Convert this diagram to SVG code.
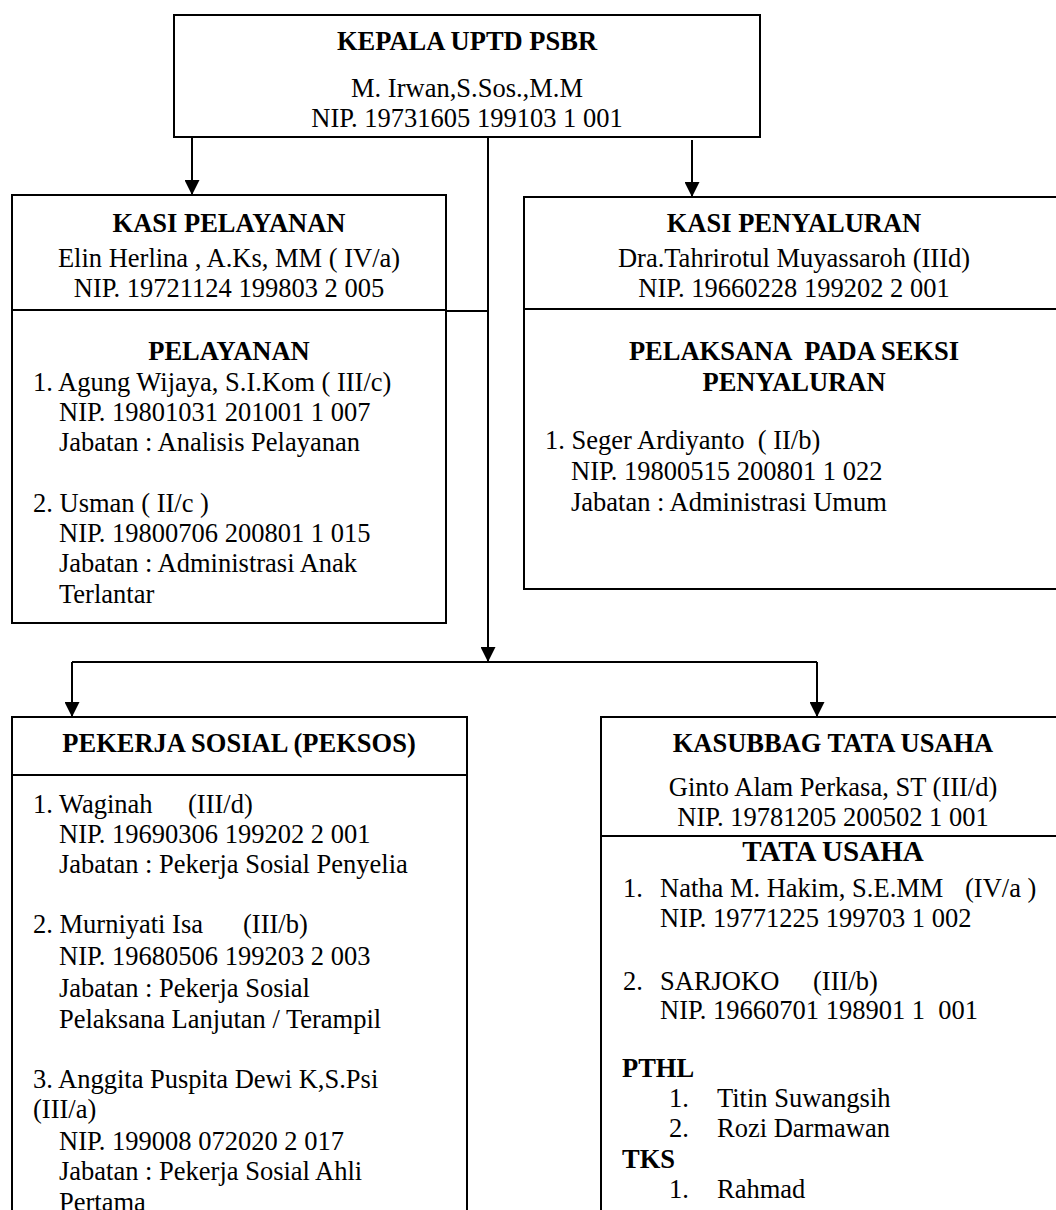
<svg xmlns="http://www.w3.org/2000/svg" width="1056" height="1210" viewBox="0 0 1056 1210">
<defs>
<marker id="arr" markerUnits="userSpaceOnUse" markerWidth="15" markerHeight="15" viewBox="0 0 10 10" refX="10" refY="5" orient="auto">
<path d="M0,0 L10,5 L0,10 z" fill="#000"/>
</marker>
<style>
.box{fill:#fff;stroke:#000;stroke-width:2}
.div{stroke:#000;stroke-width:2}
.con{stroke:#000;stroke-width:2;fill:none}
text{font-family:"Liberation Serif","Times New Roman",serif;font-size:26.5px;fill:#000;white-space:pre}
.b{font-weight:bold}
.c{text-anchor:middle}
.big{font-size:29px}
</style>
</defs>
<rect width="1056" height="1210" fill="#fff"/>

<g id="connectors">
<line class="con" x1="192" y1="137" x2="192" y2="195" marker-end="url(#arr)"/>
<line class="con" x1="692" y1="140" x2="692" y2="197" marker-end="url(#arr)"/>
<line class="con" x1="488" y1="137" x2="488" y2="662" marker-end="url(#arr)"/>
<line class="con" x1="446" y1="311" x2="488" y2="311"/>
<line class="con" x1="72" y1="662" x2="817" y2="662"/>
<line class="con" x1="72" y1="662" x2="72" y2="717" marker-end="url(#arr)"/>
<line class="con" x1="817" y1="662" x2="817" y2="717" marker-end="url(#arr)"/>
</g>

<g id="kepala">
<rect class="box" x="174" y="15" width="586" height="122"/>
<text class="b c" x="467" y="50">KEPALA UPTD PSBR</text>
<text class="c" x="467" y="97">M. Irwan,S.Sos.,M.M</text>
<text class="c" x="467" y="127">NIP. 19731605 199103 1 001</text>
</g>

<g id="kasi-pelayanan">
<rect class="box" x="12" y="195" width="434" height="428"/>
<line class="div" x1="12" y1="310" x2="446" y2="310"/>
<text class="b c" x="229" y="232">KASI PELAYANAN</text>
<text class="c" x="229" y="267">Elin Herlina , A.Ks, MM ( IV/a)</text>
<text class="c" x="229" y="297">NIP. 19721124 199803 2 005</text>
<text class="b c" x="229" y="360">PELAYANAN</text>
<text x="33" y="391">1. Agung Wijaya, S.I.Kom ( III/c)</text>
<text x="59" y="421">NIP. 19801031 201001 1 007</text>
<text x="59" y="451">Jabatan : Analisis Pelayanan</text>
<text x="33" y="512">2. Usman ( II/c )</text>
<text x="59" y="542">NIP. 19800706 200801 1 015</text>
<text x="59" y="572">Jabatan : Administrasi Anak</text>
<text x="59" y="603">Terlantar</text>
</g>

<g id="kasi-penyaluran">
<rect class="box" x="524" y="197" width="540" height="392"/>
<line class="div" x1="524" y1="309" x2="1064" y2="309"/>
<text class="b c" x="794" y="232">KASI PENYALURAN</text>
<text class="c" x="794" y="267">Dra.Tahrirotul Muyassaroh (IIId)</text>
<text class="c" x="794" y="297">NIP. 19660228 199202 2 001</text>
<text class="b c" x="794" y="360">PELAKSANA  PADA SEKSI</text>
<text class="b c" x="794" y="391">PENYALURAN</text>
<text x="545" y="449">1. Seger Ardiyanto  ( II/b)</text>
<text x="571" y="480">NIP. 19800515 200801 1 022</text>
<text x="571" y="511">Jabatan : Administrasi Umum</text>
</g>

<g id="peksos">
<rect class="box" x="12" y="717" width="455" height="510"/>
<line class="div" x1="12" y1="775" x2="467" y2="775"/>
<text class="b c" x="239" y="752">PEKERJA SOSIAL (PEKSOS)</text>
<text x="33" y="813">1. Waginah</text>
<text x="188" y="813">(III/d)</text>
<text x="59" y="843">NIP. 19690306 199202 2 001</text>
<text x="59" y="873">Jabatan : Pekerja Sosial Penyelia</text>
<text x="33" y="933">2. Murniyati Isa</text>
<text x="243" y="933">(III/b)</text>
<text x="59" y="965">NIP. 19680506 199203 2 003</text>
<text x="59" y="997">Jabatan : Pekerja Sosial</text>
<text x="59" y="1028">Pelaksana Lanjutan / Terampil</text>
<text x="33" y="1088">3. Anggita Puspita Dewi K,S.Psi</text>
<text x="33" y="1118">(III/a)</text>
<text x="59" y="1150">NIP. 199008 072020 2 017</text>
<text x="59" y="1180">Jabatan : Pekerja Sosial Ahli</text>
<text x="59" y="1211">Pertama</text>
</g>

<g id="tata-usaha">
<rect class="box" x="601" y="717" width="464" height="510"/>
<line class="div" x1="601" y1="836" x2="1065" y2="836"/>
<text class="b c" x="833" y="752">KASUBBAG TATA USAHA</text>
<text class="c" x="833" y="796">Ginto Alam Perkasa, ST (III/d)</text>
<text class="c" x="833" y="826">NIP. 19781205 200502 1 001</text>
<text class="b c big" x="833" y="861">TATA USAHA</text>
<text x="623" y="897">1.</text>
<text x="660" y="897">Natha M. Hakim, S.E.MM</text>
<text x="965" y="897">(IV/a )</text>
<text x="660" y="927">NIP. 19771225 199703 1 002</text>
<text x="623" y="990">2.</text>
<text x="660" y="990">SARJOKO</text>
<text x="813" y="990">(III/b)</text>
<text x="660" y="1019">NIP. 19660701 198901 1  001</text>
<text class="b" x="622" y="1077">PTHL</text>
<text x="669" y="1107">1.</text>
<text x="717" y="1107">Titin Suwangsih</text>
<text x="669" y="1137">2.</text>
<text x="717" y="1137">Rozi Darmawan</text>
<text class="b" x="622" y="1168">TKS</text>
<text x="669" y="1198">1.</text>
<text x="717" y="1198">Rahmad</text>
</g>
</svg>
